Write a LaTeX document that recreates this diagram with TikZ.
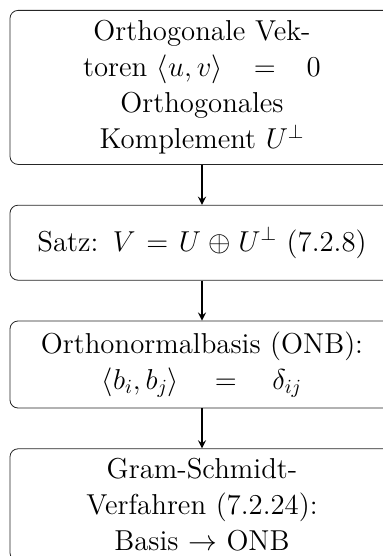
\documentclass[tikz,border=0pt]{standalone}
\usetikzlibrary{positioning}
\begin{document}
\begin{tikzpicture}[
        node distance=20pt,
        stage/.style={
            rectangle,
            rounded corners,
            draw=black!85,
            thin,
            minimum width=192pt,
            text width=184pt,
            align=center,
            font=\fontsize{14.4pt}{18pt}\selectfont
        },
        flow/.style={
            ->,
            thick,
            >=stealth
        }
    ]

        \useasboundingbox (0,0) rectangle (191.5pt,-278pt);
        \clip (0,0) rectangle (191.5pt,-278pt);

        \node[stage, minimum height=77pt, anchor=north] (orth) at (101pt,-5pt)
            {Orthogonale Vek-\\toren $\langle u,v\rangle\hspace{7pt}=\hspace{7pt}0$\\Orthogonales\\Komplement $U^{\perp}$};

        \node[stage, minimum height=37.5pt, below=of orth] (satz)
            {Satz: $V = U \oplus U^{\perp}$ (7.2.8)};

        \node[stage, minimum height=43.5pt, below=of satz] (onb)
            {Orthonormalbasis (ONB):\\$\langle b_i,b_j\rangle\hspace{8pt}=\hspace{8pt}\delta_{ij}$};

        \node[stage, minimum height=56pt, below=of onb] (gram)
            {Gram-Schmidt-\\Verfahren (7.2.24):\\Basis $\rightarrow$ ONB};

        \draw[flow] (orth) -- (satz);

        \draw[flow] (satz) -- (onb);

        \draw[flow] (onb) -- (gram);

    \end{tikzpicture}
\end{document}
